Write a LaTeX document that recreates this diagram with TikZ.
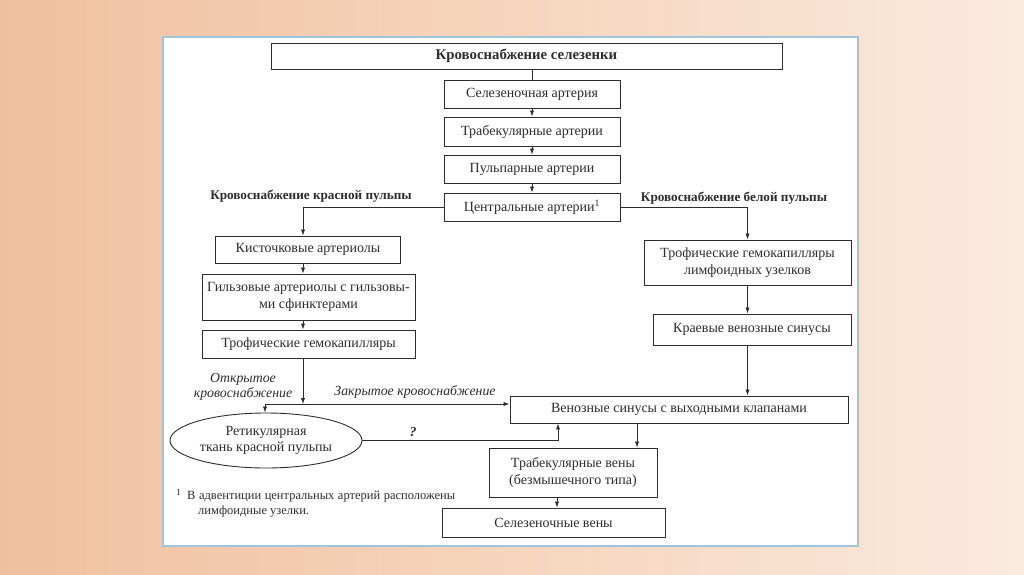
\documentclass[tikz,border=0pt]{standalone}
\usepackage{fontspec}
\setmainfont{Liberation Serif}
\usetikzlibrary{arrows.meta,calc,shapes.geometric}
\definecolor{ink}{RGB}{45,45,45}
\definecolor{bgL}{RGB}{240,192,158}
\definecolor{bgR}{RGB}{251,234,222}
\definecolor{framec}{RGB}{160,196,222}
\begin{document}
\begin{tikzpicture}[x=1pt,y=-1pt,
  box/.style={draw=ink, line width=0.9pt, fill=white, text=ink, align=center, inner sep=0pt, font=\fontsize{14}{16.5}\selectfont},
  arr/.style={-{Latex[length=6pt,width=4.2pt]}, draw=ink, line width=0.8pt},
  ln/.style={draw=ink, line width=0.8pt},
  lbl/.style={text=ink, font=\fontsize{13.2}{15}\selectfont\bfseries, inner sep=0pt},
  itl/.style={text=ink, font=\fontsize{13.8}{14.5}\selectfont\itshape, inner sep=0pt, align=center},
  note/.style={text=ink, font=\fontsize{12.5}{14}\selectfont, inner sep=0pt, anchor=west}]

\useasboundingbox (0,0) rectangle (1024,574);
\shade[left color=bgL, right color=bgR] (0,0) rectangle (1024,574);
\draw[framec, line width=1.5pt, fill=white] (163,37) rectangle (858,546);

% top chain
\node[box, minimum width=511pt, minimum height=26pt, font=\fontsize{14.8}{16}\selectfont\bfseries] (title) at (526.5,56) {Кровоснабжение селезенки};
\node[box, minimum width=176pt, minimum height=28pt] (sa) at (532,94) {Селезеночная артерия};
\node[box, minimum width=176pt, minimum height=29pt] (ta) at (532,131.5) {Трабекулярные артерии};
\node[box, minimum width=176pt, minimum height=28pt] (pa) at (532,169) {Пульпарные артерии};
\node[box, minimum width=176pt, minimum height=28pt] (ca) at (532,207) {Центральные артерии\textsuperscript{1}};

% red pulp
\node[box, minimum width=185pt, minimum height=27pt] (kist) at (308,249.5) {Кисточковые артериолы};
\node[box, minimum width=213pt, minimum height=46pt] (gilz) at (308.5,297) {Гильзовые артериолы с гильзовы-\\ми сфинктерами};
\node[box, minimum width=213pt, minimum height=28pt] (troph) at (308.5,344) {Трофические гемокапилляры};
\node[box, ellipse, minimum width=192pt, minimum height=55pt] (ret) at (266,440.5) {Ретикулярная\\ткань красной пульпы};

% white pulp
\node[box, minimum width=207pt, minimum height=45pt] (lymph) at (747.5,262.5) {Трофические гемокапилляры\\лимфоидных узелков};
\node[box, minimum width=198pt, minimum height=31pt] (kraev) at (752,329.5) {Краевые венозные синусы};

% veins
\node[box, minimum width=338pt, minimum height=27pt] (ven) at (679,409.5) {Венозные синусы с выходными клапанами};
\node[box, minimum width=168pt, minimum height=49pt] (tv) at (573,472.5) {Трабекулярные вены\\(безмышечного типа)};
\node[box, minimum width=223pt, minimum height=29pt] (sv) at (553.5,522.5) {Селезеночные вены};

% labels
\node[lbl] (lred) at (311,196) {Кровоснабжение красной пульпы};
\node[lbl] (lwhite) at (734,198) {Кровоснабжение белой пульпы};
\node[itl] (open) at (243,387) {Открытое\\кровоснабжение};
\node[itl] (closed) at (415,392) {Закрытое кровоснабжение};
\node[itl, font=\fontsize{13.8}{14.5}\selectfont\bfseries\itshape] (q) at (413,432) {?};

% footnote
\node[note, font=\fontsize{9.5}{10}\selectfont] (fnm) at (176,492) {1};
\node[note] (fn1) at (187,497) {\makebox[268pt][s]{В адвентиции центральных артерий расположены}};
\node[note] (fn2) at (198,511) {лимфоидные узелки.};

% helper columns
\coordinate (colL) at (303,0);
\coordinate (colV) at (637,0);
\coordinate (colS) at (557,0);
\coordinate (jO) at (303,404);
\coordinate (jE) at (265,404);
\coordinate (jQ) at (558,441);

% connectors
\draw[ln] (sa.north |- title.south) -- (sa.north);
\draw[arr] (sa) -- (ta);
\draw[arr] (ta) -- (pa);
\draw[arr] (pa) -- (ca);
\draw[arr] (ca.west) -| (colL |- kist.north);
\draw[arr] (ca.east) -| (lymph.north);
\draw[arr] (colL |- kist.south) -- (colL |- gilz.north);
\draw[arr] (colL |- gilz.south) -- (colL |- troph.north);
\draw[arr] (colL |- troph.south) -- (jO);
\draw[arr] (jE) -- (ven.west |- jE);
\draw[arr] (jE) -- (jE |- ret.north);
\draw[arr] (ret.east) -| (jQ |- ven.south);
\draw[arr] (lymph.south) -- (lymph.south |- kraev.north);
\draw[arr] (lymph.south |- kraev.south) -- (lymph.south |- ven.north);
\draw[arr] (colV |- ven.south) -- (colV |- tv.north);
\draw[arr] (colS |- tv.south) -- (colS |- sv.north);
\end{tikzpicture}
\end{document}
